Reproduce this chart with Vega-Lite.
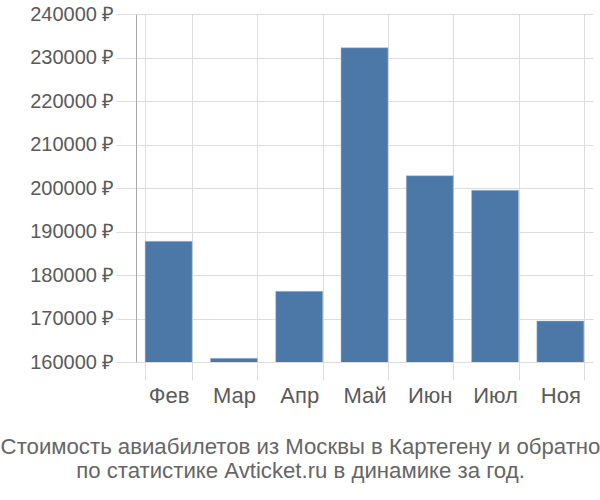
{
  "$schema": "https://vega.github.io/schema/vega-lite/v6.json",
  "width": 457,
  "height": 348,
  "autosize": {"type": "none"},
  "padding": {"left": 136, "top": 14, "right": 7, "bottom": 138},
  "background": "white",
  "config": {
    "font": "Liberation Sans",
    "view": {"stroke": null}
  },
  "title": {
    "text": ["Стоимость авиабилетов из Москвы в Картегену и обратно", "по статистике Avticket.ru в динамике за год."],
    "orient": "bottom",
    "anchor": "middle",
    "frame": "group",
    "dx": -64,
    "offset": 30,
    "fontSize": 22.2,
    "fontWeight": "normal",
    "color": "#666666",
    "font": "Liberation Sans",
    "lineHeight": 24
  },
  "data": {
    "values": [
      {"month": "Фев", "price": 187750},
      {"month": "Мар", "price": 160850},
      {"month": "Апр", "price": 176250},
      {"month": "Май", "price": 232250},
      {"month": "Июн", "price": 202830},
      {"month": "Июл", "price": 199470},
      {"month": "Ноя", "price": 169430}
    ]
  },
  "mark": {"type": "bar", "color": "#4c78a8", "stroke": "#a9bfd8", "strokeWidth": 0.5, "clip": true},
  "encoding": {
    "x": {
      "field": "month",
      "type": "nominal",
      "sort": null,
      "title": null,
      "scale": {"paddingInner": 0.28, "paddingOuter": 0.14},
      "axis": {
        "grid": true,
        "gridColor": "#dddddd",
        "tickBand": "extent",
        "tickSize": 18,
        "tickColor": "#dddddd",
        "domain": false,
        "labelAngle": 0,
        "labelFontSize": 22,
        "labelColor": "#5a5a5a",
        "labelPadding": 5
      }
    },
    "y": {
      "field": "price",
      "type": "quantitative",
      "title": null,
      "scale": {"domain": [160000, 240000], "zero": false, "nice": false},
      "axis": {
        "values": [160000, 170000, 180000, 190000, 200000, 210000, 220000, 230000, 240000],
        "labelExpr": "format(datum.value, 'd') + ' ₽'",
        "grid": true,
        "gridColor": "#dddddd",
        "tickSize": 20,
        "tickColor": "#dddddd",
        "domainColor": "#aaaaaa",
        "labelFontSize": 20,
        "labelColor": "#5a5a5a",
        "labelPadding": 2
      }
    }
  }
}
